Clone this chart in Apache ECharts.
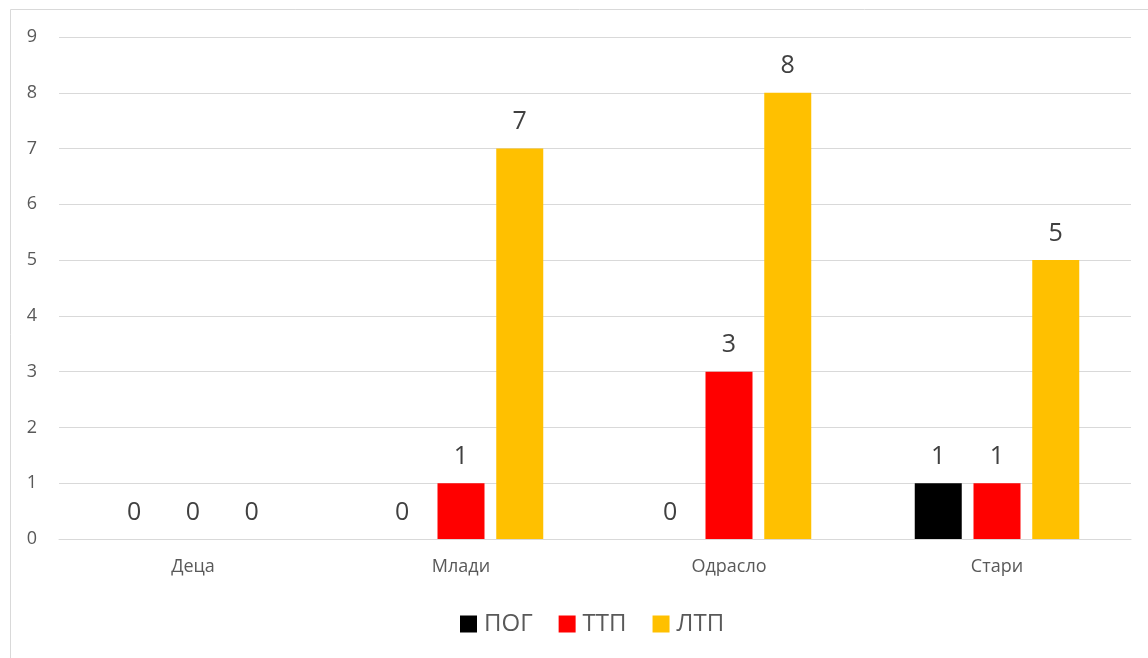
<!DOCTYPE html>
<html>
<head>
<meta charset="utf-8">
<script src="https://cdn.jsdelivr.net/npm/echarts@6/dist/echarts.min.js"></script>
<style>
html,body{margin:0;padding:0;background:#fff;}
#c{width:1148px;height:658px;}
</style>
</head>
<body>
<div id="c"></div>
<script>
var categories = ['Деца', 'Млади', 'Одрасло', 'Стари'];
var seriesNames = ['ПОГ', 'ТТП', 'ЛТП'];
var pog = [0, 0, 0, 1];
var ttp = [0, 1, 3, 1];
var ltp = [0, 7, 8, 5];
var colors = ['#000000', '#ff0000', '#ffc000'];
var FONT = '"Open Sans", "Noto Sans", sans-serif';

var chart = echarts.init(document.getElementById('c'), null, {renderer: 'canvas'});
function mk(name, data, color) {
  return {
    name: name, type: 'bar', data: data, barWidth: 47, barGap: '25%',
    itemStyle: {color: color},
    label: {show: true, position: 'top', distance: 14, color: '#404040', fontSize: 25, fontFamily: FONT},
    emphasis: {disabled: true}
  };
}
chart.setOption({
  animation: false,
  color: colors,
  graphic: [{type: 'rect', shape: {x: 10.5, y: 9.5, width: 1300, height: 800},
    style: {fill: 'none', stroke: '#d9d9d9', lineWidth: 1}, silent: true}],
  grid: {left: 59, right: 17, top: 37, bottom: 119, containLabel: false},
  legend: {
    data: seriesNames, bottom: 17, left: 455, itemWidth: 17, itemHeight: 17, itemGap: 26,
    icon: 'rect',
    textStyle: {color: '#595959', fontSize: 24, fontFamily: FONT, padding: [0, 0, 0, 2]}
  },
  xAxis: {
    type: 'category', data: categories,
    axisLine: {show: true, lineStyle: {color: '#d9d9d9', width: 1}},
    axisTick: {show: false},
    axisLabel: {color: '#595959', fontSize: 18, fontFamily: FONT, margin: 19}
  },
  yAxis: {
    type: 'value', min: 0, max: 9, interval: 1,
    axisLine: {show: false}, axisTick: {show: false},
    splitLine: {lineStyle: {color: '#d9d9d9', width: 1}},
    axisLabel: {color: '#595959', fontSize: 18, fontFamily: FONT, margin: 22}
  },
  series: [mk(seriesNames[0], pog, colors[0]), mk(seriesNames[1], ttp, colors[1]), mk(seriesNames[2], ltp, colors[2])]
});
</script>
</body>
</html>
